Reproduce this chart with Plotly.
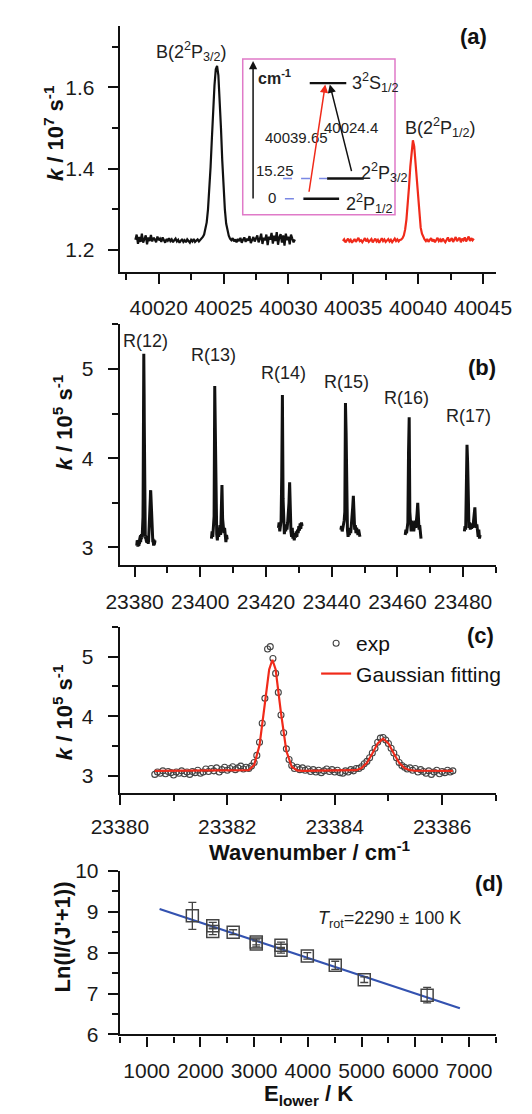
import numpy as np
import plotly.graph_objects as go

FONT = "Liberation Sans, Arial, sans-serif"
BLACK = "#111111"
RED = "#f02a1a"
BLUE = "#3352b0"
PINK = "#e07ac8"
DASH = "#7a88e4"

# ---------------- panel (a): B(2P) lines ----------------
a_black_x0 = 40018.2
a_red_x0 = 40034.2
a_step = 0.1
a_black_y = [
    1.225, 1.238, 1.215, 1.232, 1.220, 1.240, 1.218, 1.229, 1.236, 1.214, 1.231, 1.222, 1.237,
    1.221, 1.230, 1.226, 1.219, 1.233, 1.224, 1.228, 1.220, 1.231, 1.225, 1.218, 1.227, 1.223,
    1.229, 1.222, 1.226, 1.219, 1.224, 1.228, 1.221, 1.225, 1.218, 1.223, 1.227, 1.220, 1.224, 1.219, 1.226,
    1.222, 1.218, 1.225, 1.221, 1.227, 1.220, 1.223, 1.226, 1.221, 1.224, 1.228, 1.232,
    1.238, 1.250, 1.268, 1.300, 1.345, 1.405, 1.475, 1.545, 1.605, 1.645, 1.653, 1.630, 1.575,
    1.500, 1.420, 1.350, 1.300, 1.265, 1.245, 1.235, 1.228,
    1.224, 1.229, 1.221, 1.226, 1.219, 1.227, 1.222, 1.230, 1.218, 1.225, 1.231, 1.220, 1.228,
    1.223, 1.234, 1.217, 1.226, 1.232, 1.221, 1.229, 1.236, 1.219, 1.227, 1.240, 1.215, 1.230,
    1.224, 1.238, 1.212, 1.233, 1.226, 1.242, 1.216, 1.235, 1.222, 1.244, 1.213, 1.231, 1.239,
    1.218, 1.236, 1.211, 1.240, 1.224, 1.233, 1.214, 1.238, 1.228, 1.219, 1.226,
]
a_red_y = [
    1.222, 1.226, 1.219, 1.224, 1.228, 1.221, 1.225, 1.218, 1.223, 1.227, 1.220, 1.226, 1.230,
    1.222, 1.224, 1.219, 1.225, 1.229, 1.221, 1.226, 1.220, 1.224, 1.227, 1.219, 1.223, 1.228,
    1.221, 1.225, 1.218, 1.224, 1.229, 1.222, 1.226, 1.220, 1.224, 1.227, 1.221, 1.225, 1.219,
    1.224, 1.228, 1.222, 1.226, 1.221, 1.225,
    1.226, 1.229, 1.236, 1.250, 1.275, 1.310, 1.355, 1.405, 1.448, 1.470, 1.455, 1.415, 1.365,
    1.318, 1.280, 1.255, 1.240, 1.231, 1.226,
    1.222, 1.227, 1.220, 1.225, 1.229, 1.221, 1.226, 1.219, 1.224, 1.230, 1.222, 1.226, 1.220,
    1.228, 1.223, 1.219, 1.225, 1.231, 1.221, 1.226, 1.229, 1.220, 1.227, 1.232, 1.222, 1.225,
    1.230, 1.219, 1.228, 1.224, 1.231, 1.221, 1.227, 1.233, 1.222, 1.229, 1.224, 1.228,
]
a_labels = ["B(2<sup>2</sup>P<sub>3/2</sub>)", "B(2<sup>2</sup>P<sub>1/2</sub>)"]
a_label_x = [40022.55, 40041.7]
a_label_y = [1.689, 1.501]

# ---------------- panel (c): R(12) expanded (also R(12) in panel b) ----------------
c_x0 = 23380.65
c_step = 0.05
c_exp_y = [
    3.02, 3.06, 3.04, 3.08, 3.03, 3.07, 3.05, 3.01, 3.06, 3.04, 3.08, 3.03, 3.06, 3.02, 3.07,
    3.05, 3.09, 3.04, 3.06, 3.11, 3.07, 3.12, 3.08, 3.13, 3.06, 3.10, 3.14, 3.09, 3.12, 3.15,
    3.10, 3.13, 3.16, 3.11, 3.14, 3.12, 3.16, 3.22, 3.34, 3.56, 3.88, 4.30, 5.13, 5.17, 4.97,
    4.72, 4.40, 4.02, 3.72, 3.45, 3.27, 3.17, 3.12, 3.14, 3.10, 3.13, 3.09, 3.11, 3.07, 3.10,
    3.06, 3.09, 3.05, 3.08, 3.11, 3.07, 3.10, 3.06, 3.09, 3.05, 3.04, 3.08, 3.06, 3.10, 3.08,
    3.12, 3.12, 3.15, 3.20, 3.24, 3.30, 3.38, 3.46, 3.56, 3.63, 3.64, 3.60, 3.54, 3.46, 3.38,
    3.30, 3.22, 3.17, 3.14, 3.11, 3.13, 3.09, 3.12, 3.06, 3.10, 3.07, 3.04, 3.08, 3.02, 3.06,
    3.09, 3.03, 3.07, 3.05, 3.09, 3.06, 3.08,
]
c_fit_x = [23380.65, 23382.30, 23382.40, 23382.50, 23382.60, 23382.70, 23382.78, 23382.84,
           23382.90, 23383.00, 23383.10, 23383.20, 23383.30, 23383.40, 23384.30, 23384.40,
           23384.50, 23384.60, 23384.70, 23384.80, 23384.90, 23385.00, 23385.10, 23385.20,
           23385.30, 23385.40, 23385.50, 23386.20]
c_fit_y = [3.080, 3.081, 3.093, 3.178, 3.510, 4.214, 4.786, 4.950,
           4.786, 4.053, 3.413, 3.149, 3.088, 3.080, 3.082, 3.091,
           3.126, 3.215, 3.371, 3.543, 3.620, 3.543, 3.371, 3.215,
           3.126, 3.091, 3.082, 3.080]

# ---------------- panel (b): R(13)-R(17) ----------------
b_step = 0.2
b_starts = [23403.4, 23423.8, 23442.8, 23462.4, 23480.4]
b13_y = [3.10, 3.18, 3.12, 3.22, 3.35, 4.81, 4.20, 3.30, 3.15, 3.08, 3.20, 3.12, 3.18,
         3.25, 3.14, 3.35, 3.70, 3.32, 3.20, 3.16, 3.22, 3.12, 3.06, 3.14, 3.09]
b14_y = [3.22, 3.28, 3.18, 3.25, 3.30, 3.80, 4.71, 3.55, 3.22, 3.15, 3.24, 3.18, 3.26,
         3.20, 3.28, 3.35, 3.50, 3.73, 3.30, 3.18, 3.12, 3.22, 3.10, 3.16, 3.08, 3.14,
         3.11, 3.18, 3.12, 3.20, 3.16, 3.24, 3.19, 3.27, 3.21, 3.28, 3.24]
b15_y = [3.20, 3.24, 3.18, 3.22, 3.26, 3.30, 3.40, 4.62, 4.28, 3.35, 3.20, 3.12, 3.18,
         3.14, 3.22, 3.16, 3.24, 3.30, 3.45, 3.58, 3.30, 3.20, 3.25, 3.16, 3.22, 3.18,
         3.14, 3.20, 3.15, 3.12]
b16_y = [3.14, 3.20, 3.16, 3.22, 3.28, 4.07, 4.46, 3.40, 3.22, 3.18, 3.30, 3.20, 3.26,
         3.18, 3.24, 3.30, 3.22, 3.28, 3.38, 3.50, 3.30, 3.20, 3.25, 3.14, 3.10]
b17_y = [3.18, 3.24, 3.20, 3.70, 4.15, 3.95, 3.30, 3.22, 3.28, 3.20, 3.26, 3.21, 3.27,
         3.22, 3.30, 3.36, 3.45, 3.28, 3.22, 3.26, 3.18, 3.12, 3.20, 3.10, 3.14]
b_segments = [b13_y, b14_y, b15_y, b16_y, b17_y]
b_labels = ["R(12)", "R(13)", "R(14)", "R(15)", "R(16)", "R(17)"]
b_label_x = [23383.4, 23403.9, 23425.3, 23444.6, 23462.9, 23481.8]
b_label_y = [5.31, 5.16, 4.96, 4.85, 4.68, 4.47]

# ---------------- panel (d): Boltzmann plot ----------------
d_E = [1850, 2230, 2230, 2610, 3040, 3040, 3500, 3500, 3990, 4510, 5050, 6220]
d_ln = [8.90, 8.66, 8.52, 8.50, 8.26, 8.21, 8.18, 8.06, 7.92, 7.69, 7.34, 6.96]
d_err = [0.33, 0.08, 0.08, 0.06, 0.07, 0.07, 0.08, 0.07, 0.08, 0.10, 0.07, 0.19]
d_fit_E = [1240, 6830]
d_fit_ln = [9.07, 6.64]

# ---------------- figure ----------------
W, H = 532, 1114
fig = go.Figure()

def grid(x0, step, n):
    return np.round(x0 + step * np.arange(n), 4)

# (a)
fig.add_trace(go.Scatter(x=grid(a_black_x0, a_step, len(a_black_y)), y=a_black_y, mode="lines",
                         line=dict(color=BLACK, width=2.2), showlegend=False, xaxis="x", yaxis="y"))
fig.add_trace(go.Scatter(x=grid(a_red_x0, a_step, len(a_red_y)), y=a_red_y, mode="lines",
                         line=dict(color=RED, width=2.2), showlegend=False, xaxis="x", yaxis="y"))

# (b)
c_x = grid(c_x0, c_step, len(c_exp_y))
fig.add_trace(go.Scatter(x=c_x, y=c_exp_y, mode="lines", line=dict(color=BLACK, width=3),
                         showlegend=False, xaxis="x2", yaxis="y2"))
for x0, ys in zip(b_starts, b_segments):
    fig.add_trace(go.Scatter(x=grid(x0, b_step, len(ys)), y=ys, mode="lines",
                             line=dict(color=BLACK, width=3), showlegend=False,
                             xaxis="x2", yaxis="y2"))

# (c)
fig.add_trace(go.Scatter(x=c_x, y=c_exp_y, mode="markers", name="exp",
                         marker=dict(symbol="circle-open", size=6, color="#444444",
                                     line=dict(width=1.1, color="#444444")),
                         xaxis="x3", yaxis="y3"))
fig.add_trace(go.Scatter(x=c_fit_x, y=c_fit_y, mode="lines", name="Gaussian fitting",
                         line=dict(color=RED, width=2.2), xaxis="x3", yaxis="y3"))

# (d)
fig.add_trace(go.Scatter(x=d_fit_E, y=d_fit_ln, mode="lines", line=dict(color=BLUE, width=2.2),
                         showlegend=False, xaxis="x4", yaxis="y4"))
fig.add_trace(go.Scatter(x=d_E, y=d_ln, mode="markers",
                         marker=dict(symbol="square-open", size=12, color="#444444",
                                     line=dict(width=1.5, color="#444444")),
                         error_y=dict(type="data", array=d_err, color="#444444", thickness=1.3, width=4),
                         showlegend=False, xaxis="x4", yaxis="y4"))

# axes
def ax(domain, rng, dtick, mdtick, anchor, fmt=None, standoff=4):
    d = dict(domain=domain, range=rng, dtick=dtick, anchor=anchor,
             showline=True, linecolor=BLACK, linewidth=2.2, mirror=False,
             ticks="outside", ticklen=10, tickwidth=2, tickcolor=BLACK,
             showgrid=False, zeroline=False, ticklabelstandoff=standoff,
             tickfont=dict(size=21, color="#1a1a1a", family=FONT),
             minor=dict(ticks="outside", ticklen=6, tickwidth=2, tickcolor=BLACK,
                        dtick=mdtick, showgrid=False))
    if fmt:
        d["tickformat"] = fmt
    return d

XD = [99 / W, 509 / W]
def ydom(top, bot):
    return [1 - bot / H, 1 - top / H]

fig.update_layout(
    width=W, height=H, margin=dict(l=0, r=0, t=0, b=0),
    paper_bgcolor="white", plot_bgcolor="white",
    font=dict(family=FONT, color=BLACK),
    xaxis=ax(XD, [40017.0, 40046.0], 5, 2.5, "y", "d", 6),
    yaxis=ax(ydom(14, 265), [1.147, 1.752], 0.2, 0.1, "x", ".1f", 9),
    xaxis2=ax(XD, [23375.5, 23490.0], 20, 10, "y2", "d", 6),
    yaxis2=ax(ydom(319, 565), [2.8, 5.5], 1, 0.5, "x2", None, 10),
    xaxis3=ax(XD, [23379.999, 23387.001], 2, 1, "y3", "d", 4),
    yaxis3=ax(ydom(628, 797), [2.715, 5.5], 1, 0.5, "x3", None, 10),
    xaxis4=ax(XD, [500, 7500], 1000, 500, "y4", "d", 6),
    yaxis4=ax(ydom(877, 1044), [6, 10], 1, 0.5, "x4", None, 5),
    xaxis5=dict(domain=[233 / W, 399 / W], range=[0, 1], visible=False, anchor="y5"),
    yaxis5=dict(domain=ydom(48, 207), range=[0, 1], visible=False, anchor="x5"),
    showlegend=True,
    legend=dict(x=313 / W, y=1 - 624 / H, xanchor="left", yanchor="top",
                bgcolor="rgba(0,0,0,0)", font=dict(size=21, family=FONT, color=BLACK),
                itemwidth=30, tracegroupgap=0),
)

ann = []
shapes = []

def paper_text(text, px, py, size=22, angle=0, xanchor="center", bold=True):
    ann.append(dict(text=("<b>%s</b>" % text) if bold else text, x=px / W, y=1 - py / H,
                    xref="paper", yref="paper", showarrow=False, textangle=angle,
                    xanchor=xanchor, yanchor="middle",
                    font=dict(size=size, family=FONT, color=BLACK)))

# panel letters
paper_text("(a)", 485, 25)
paper_text("(b)", 494, 363)
paper_text("(c)", 492, 637)
paper_text("(d)", 501, 890)
# axis titles
paper_text("<i>k</i> / 10<sup>7</sup> s<sup>-1</sup>", 28, 124, angle=-90)
paper_text("<i>k</i> / 10<sup>5</sup> s<sup>-1</sup>", 37, 419, angle=-90)
paper_text("<i>k</i> / 10<sup>5</sup> s<sup>-1</sup>", 37, 715, angle=-90)
paper_text("Ln(I/(J'+1))", 37, 944, angle=-90)
paper_text("Wavenumber / cm<sup>-1</sup>", 306, 857)
paper_text("E<sub>lower</sub> / K", 305, 1106)

# data-anchored labels
for t, x, y in zip(a_labels, a_label_x, a_label_y):
    ann.append(dict(text=t, x=x, y=y, xref="x", yref="y", showarrow=False,
                    font=dict(size=18, family=FONT, color="#222")))
for t, x, y in zip(b_labels, b_label_x, b_label_y):
    ann.append(dict(text=t, x=x, y=y, xref="x2", yref="y2", showarrow=False,
                    font=dict(size=18, family=FONT, color="#222")))
ann.append(dict(text="<i>T</i><sub>rot</sub>=2290 ± 100 K", x=4150, y=8.81, xref="x4", yref="y4",
                xanchor="left", showarrow=False, font=dict(size=18, family=FONT, color="#222")))

# ---- inset (energy levels) ----
shapes.append(dict(type="rect", xref="paper", yref="paper", x0=233 / W, x1=399 / W,
                   y0=1 - 207 / H, y1=1 - 48 / H, line=dict(color=PINK, width=1.5)))
def iline(x0, x1, y, color=BLACK, width=2.4, dash=None):
    shapes.append(dict(type="line", xref="x5", yref="y5", x0=x0, x1=x1, y0=y, y1=y,
                       line=dict(color=color, width=width, dash=dash)))
iline(0.44, 0.68, 0.845)
iline(0.554, 0.795, 0.233)
iline(0.398, 0.633, 0.103)
iline(0.265, 0.554, 0.233, DASH, 1.5, "dash")
iline(0.277, 0.398, 0.103, DASH, 1.5, "dash")

def itext(t, x, y, size=15, xanchor="center", bold=False):
    ann.append(dict(text=("<b>%s</b>" % t) if bold else t, x=x, y=y, xref="x5", yref="y5",
                    showarrow=False, xanchor=xanchor, yanchor="middle",
                    font=dict(size=size, family=FONT, color="#222")))
itext("cm<sup>-1</sup>", 0.21, 0.887, size=16, bold=True)
itext("3<sup>2</sup>S<sub>1/2</sub>", 0.705, 0.85, size=18, xanchor="left")
itext("2<sup>2</sup>P<sub>3/2</sub>", 0.765, 0.27, size=18, xanchor="left")
itext("2<sup>2</sup>P<sub>1/2</sub>", 0.663, 0.07, size=18, xanchor="left")
itext("15.25", 0.21, 0.283)
itext("0", 0.193, 0.113)
itext("40039.65", 0.355, 0.497)
itext("40024.4", 0.711, 0.56)

def iarrow(x0, y0, x1, y1, color):
    ann.append(dict(text="", x=x1, y=y1, ax=x0, ay=y0, xref="x5", yref="y5",
                    axref="x5", ayref="y5", showarrow=True, arrowhead=2, arrowsize=1.1,
                    arrowwidth=1.5, arrowcolor=color))
iarrow(0.068, 0.094, 0.068, 0.987, BLACK)
iarrow(0.434, 0.138, 0.542, 0.836, RED)
iarrow(0.717, 0.27, 0.572, 0.836, BLACK)

fig.update_layout(annotations=ann, shapes=shapes)

# remove the default 8px page margin so the figure fills the 532x1114 window exactly
post = ("document.documentElement.style.margin='0';document.documentElement.style.padding='0';"
        "document.body.style.margin='0';document.body.style.padding='0';"
        "document.documentElement.style.overflow='hidden';document.body.style.overflow='hidden';")
fig.write_html("out.html", post_script=post, config={"displayModeBar": False})
